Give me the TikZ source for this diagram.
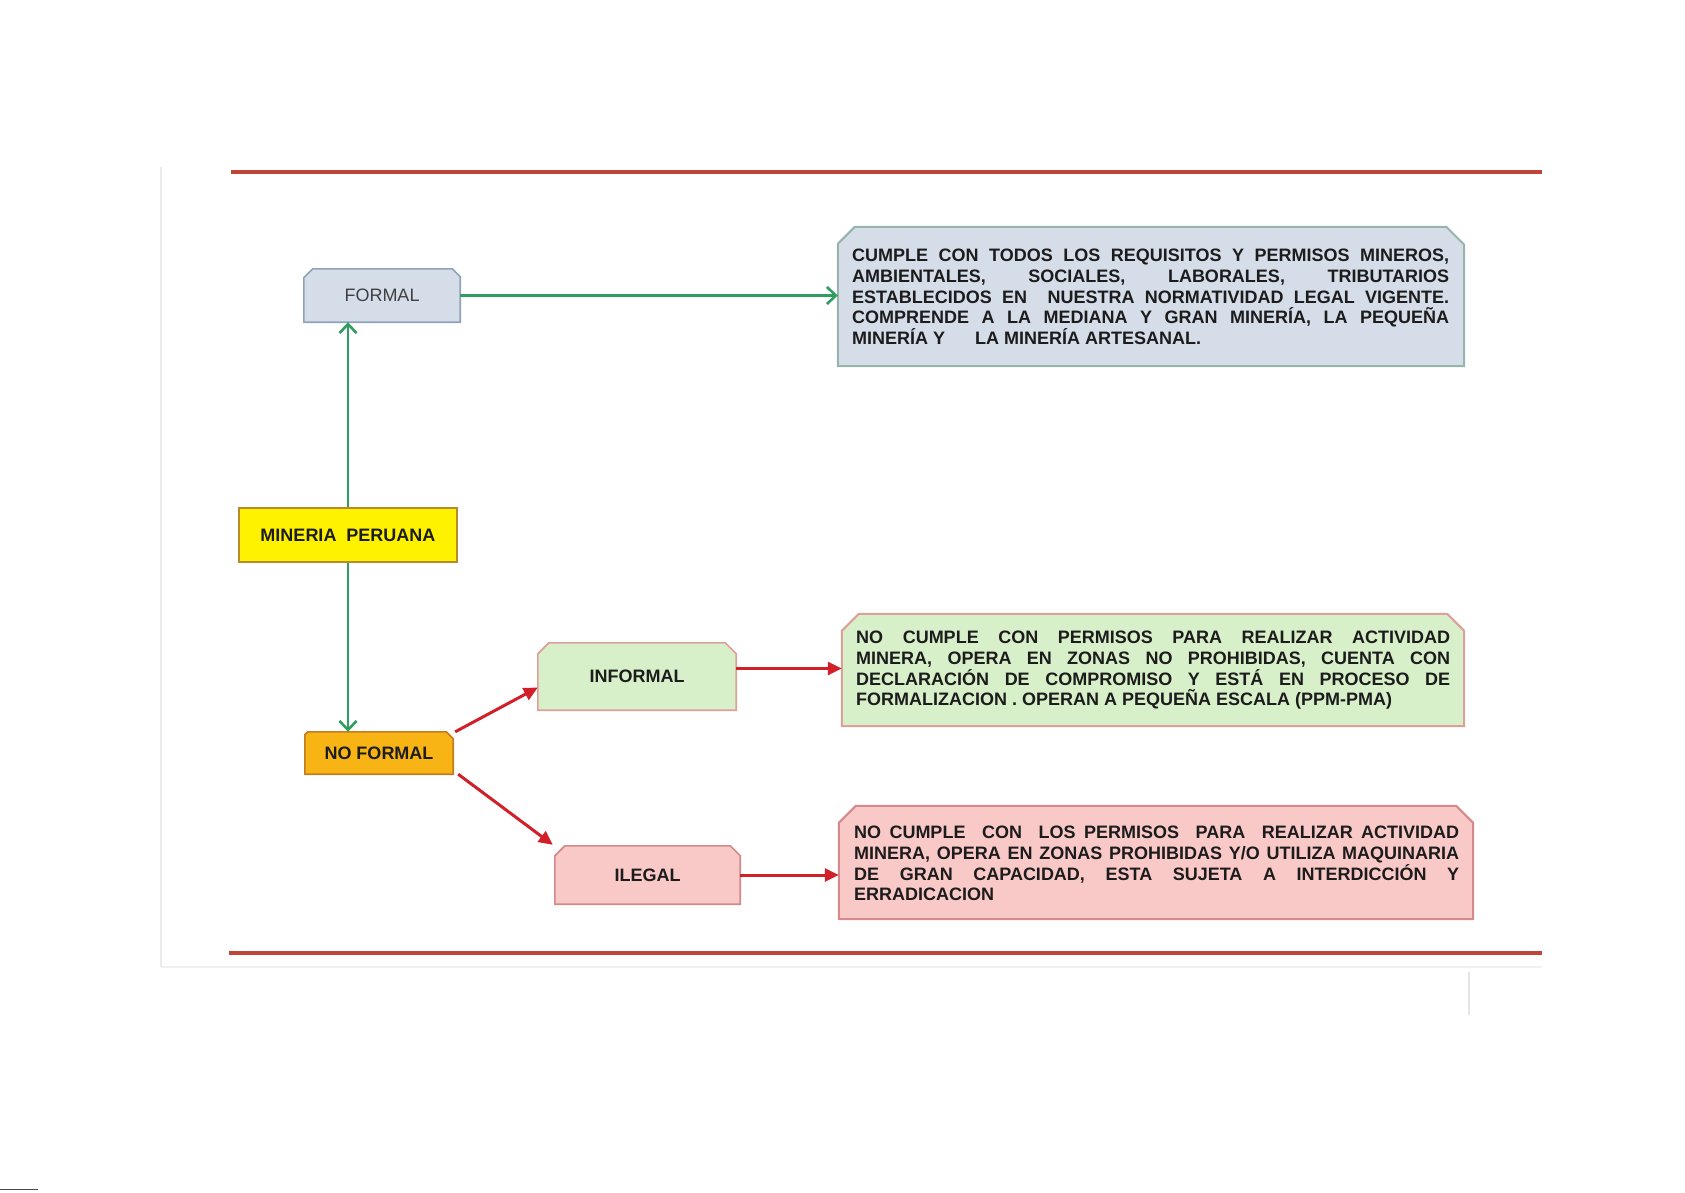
\documentclass[tikz,border=0pt]{standalone}
\usepackage{fontspec}
\setmainfont{Liberation Sans}
\usetikzlibrary{arrows.meta,backgrounds,calc}
\definecolor{arrowgreen}{HTML}{2F9E60}
\definecolor{arrowred}{HTML}{D2202A}
\definecolor{rule}{HTML}{C0443A}
\definecolor{bluefill}{HTML}{D5DDE9}
\definecolor{blueedge}{HTML}{98B4AA}
\definecolor{formaledge}{HTML}{8FA3B8}
\definecolor{yellowedge}{HTML}{B88A30}
\definecolor{orangefill}{HTML}{F7B414}
\definecolor{orangeedge}{HTML}{C07E20}
\definecolor{greenfill}{HTML}{D8F0C9}
\definecolor{greenedge}{HTML}{DDA098}
\definecolor{pinkfill}{HTML}{F9C9C8}
\definecolor{pinkedge}{HTML}{D48A8A}
\definecolor{ink}{HTML}{1C1C1C}
\newcommand\chamfer[4]{%
  \begin{pgfonlayer}{background}
  \path[#4] (#1.south west) -- ([yshift=-#2]#1.north west) -- ([xshift=#2]#1.north west)
    -- ([xshift=-#3]#1.north east) -- ([yshift=-#3]#1.north east) -- (#1.south east) -- cycle;
  \end{pgfonlayer}}
\begin{document}
\begin{tikzpicture}[x=1pt,y=-1pt,
  box/.style={draw=none, inner sep=0pt, text=ink, font=\fontsize{18}{21}\selectfont\bfseries},
  bodytext/.style={inner sep=0pt, anchor=north west, align=left, text=ink,
    font=\fontsize{18}{20.7}\selectfont\bfseries},
  greenarrow/.style={draw=arrowgreen, line width=2.6pt, -{Straight Barb[length=9pt,width=17pt]}},
  redarrow/.style={draw=arrowred, line width=3pt, -{Triangle[length=14pt,width=13pt]}},
  pagerule/.style={draw=rule, line width=3.2pt}
]
\useasboundingbox (0,0) rectangle (1685,1192);

% page decoration
\draw[black!8, line width=2pt] (161,167) -- (161,967);
\draw[black!6, line width=2pt] (161,967) -- (1542,967);
\draw[black!10, line width=1.5pt] (1469,972) -- (1469,1015);
\draw[pagerule] (231,172) -- (1542,172);
\draw[pagerule] (229,953) -- (1542,953);
\draw[black!70, line width=1pt] (0,1189) -- (38,1189);

% nodes
\node[box, minimum width=156pt, minimum height=53pt, font=\fontsize{18}{21}\selectfont, text=black!75] (formal) at (382,295.5) {FORMAL};
\chamfer{formal}{9pt}{8pt}{fill=bluefill, draw=formaledge, line width=1.6pt}

\node[box, minimum width=626pt, minimum height=139pt] (blue) at (1151,296.5) {};
\chamfer{blue}{17pt}{18pt}{fill=bluefill, draw=blueedge, line width=2pt}
\node[bodytext] (bluetxt) at (852,249) {%
\makebox[597pt][s]{CUMPLE CON TODOS LOS REQUISITOS Y PERMISOS MINEROS,}\\
\makebox[597pt][s]{AMBIENTALES, SOCIALES, LABORALES, TRIBUTARIOS}\\
\makebox[597pt][s]{ESTABLECIDOS EN \ NUESTRA NORMATIVIDAD LEGAL VIGENTE.}\\
\makebox[597pt][s]{COMPRENDE A LA MEDIANA Y GRAN MINERÍA, LA PEQUEÑA}\\
MINERÍA Y\hspace{30pt}LA MINERÍA ARTESANAL.};

\node[box, minimum width=218pt, minimum height=54pt, fill=yellow, draw=yellowedge, line width=1.6pt] (mp) at (348,535) {MINERIA \ PERUANA};

\node[box, minimum width=148pt, minimum height=42pt] (nof) at (379,753) {NO FORMAL};
\chamfer{nof}{3pt}{7pt}{fill=orangefill, draw=orangeedge, line width=1.6pt}

\node[box, minimum width=198pt, minimum height=67pt] (inf) at (637,676.5) {INFORMAL};
\chamfer{inf}{11pt}{11pt}{fill=greenfill, draw=greenedge, line width=1.6pt}

\node[box, minimum width=622pt, minimum height=112pt] (green) at (1153,670) {};
\chamfer{green}{17pt}{17pt}{fill=greenfill, draw=greenedge, line width=2pt}
\node[bodytext] (greentxt) at (856,631) {%
\makebox[594pt][s]{NO CUMPLE CON PERMISOS PARA REALIZAR ACTIVIDAD}\\
\makebox[594pt][s]{MINERA, OPERA EN ZONAS NO PROHIBIDAS, CUENTA CON}\\
\makebox[594pt][s]{DECLARACIÓN DE COMPROMISO Y ESTÁ EN PROCESO DE}\\
FORMALIZACION . OPERAN A PEQUEÑA ESCALA (PPM-PMA)};

\node[box, minimum width=185pt, minimum height=58pt] (ileg) at (647.5,875) {ILEGAL};
\chamfer{ileg}{10pt}{10pt}{fill=pinkfill, draw=pinkedge, line width=1.6pt}

\node[box, minimum width=634pt, minimum height=113pt] (pink) at (1156,862.5) {};
\chamfer{pink}{17pt}{17pt}{fill=pinkfill, draw=pinkedge, line width=2pt}
\node[bodytext] (pinktxt) at (854,826) {%
\makebox[605pt][s]{NO CUMPLE \ CON \ LOS PERMISOS \ PARA \ REALIZAR ACTIVIDAD}\\
\makebox[605pt][s]{MINERA, OPERA EN ZONAS PROHIBIDAS Y/O UTILIZA MAQUINARIA}\\
\makebox[605pt][s]{DE GRAN CAPACIDAD, ESTA SUJETA A INTERDICCIÓN Y}\\
ERRADICACION};

% connectors
\draw[greenarrow] (mp.north) -- (mp.north |- formal.south);
\draw[greenarrow] (mp.south) -- (mp.south |- nof.north);
\draw[greenarrow] (formal.east) -- (formal.east -| blue.west);
\draw[redarrow] ([xshift=2pt]nof.north east) -- ([yshift=-11pt]inf.west);
\draw[redarrow] ([xshift=5pt]nof.south east) -- ($(ileg.west |- ileg.north)+(-2,-1)$);
\draw[redarrow] ([yshift=8pt]inf.east) -- ([yshift=8pt]inf.east -| green.west);
\draw[redarrow] (ileg.east) -- (ileg.east -| pink.west);
\end{tikzpicture}
\end{document}
